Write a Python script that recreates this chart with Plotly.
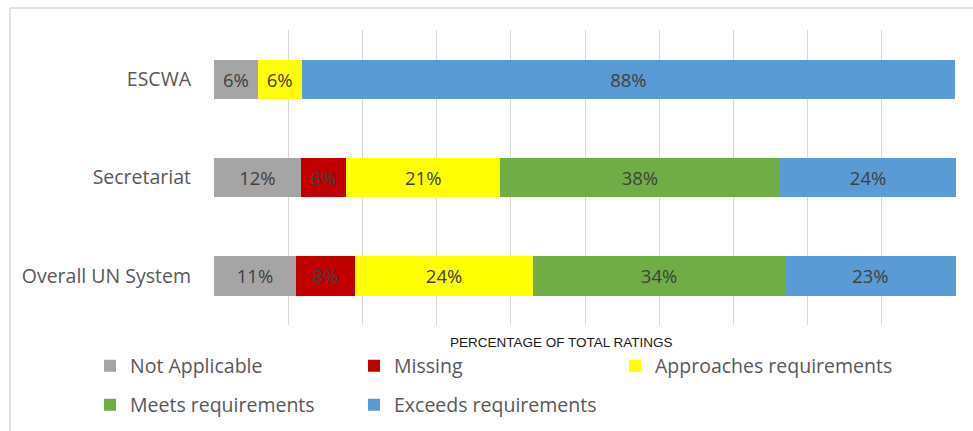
import plotly.graph_objects as go

categories = ["Overall UN System", "Secretariat", "ESCWA"]
series_names = ["Not Applicable", "Missing", "Approaches requirements",
                "Meets requirements", "Exceeds requirements"]
not_applicable = [11.05, 11.7, 5.9]
missing = [7.95, 6.1, 0]
approaches = [24.0, 20.8, 5.9]
meets = [33.96, 37.6, 0]
exceeds = [23.0, 23.9, 88.1]
colors = ["#a5a5a5", "#c00000", "#ffff00", "#70ad47", "#5b9bd5"]
legend_ids = ["legend", "legend", "legend3", "legend2", "legend2"]

FONT = "Open Sans"
W, H = 973, 431
L, R, T, B = 214, 17, 30, 106
PW, PH = W - L - R, H - T - B

def px_x(x):
    return (x - L) / PW

def px_y(y):
    return (H - B - y) / PH

fig = go.Figure()
for name, vals, col, lg in zip(series_names,
                               [not_applicable, missing, approaches, meets, exceeds],
                               colors, legend_ids):
    fig.add_trace(go.Bar(
        y=categories, x=vals, name=name, orientation="h",
        marker=dict(color=col, line=dict(width=0)),
        text=[f"{v:.0f}%" if v > 0 else "" for v in vals],
        textposition="inside", insidetextanchor="middle",
        textfont=dict(family=FONT, size=18.5, color="#404040"),
        constraintext="none", legend=lg, hoverinfo="skip",
    ))

legend_common = dict(orientation="h", xanchor="left", yanchor="middle",
                     entrywidthmode="pixels",
                     font=dict(family=FONT, size=19.5, color="#595959"),
                     traceorder="normal", bgcolor="rgba(0,0,0,0)")

fig.update_layout(
    width=W, height=H, barmode="stack", bargap=0.6,
    margin=dict(l=L, r=R, t=T, b=B, autoexpand=False),
    paper_bgcolor="white", plot_bgcolor="white",
    font=dict(family=FONT, color="#595959"),
    xaxis=dict(range=[0, 100], dtick=10, showgrid=True, gridcolor="#d9d9d9",
               gridwidth=1, showticklabels=False, zeroline=False, showline=False,
               fixedrange=True),
    yaxis=dict(showgrid=False, zeroline=False, showline=False, fixedrange=True,
               automargin=False,
               tickfont=dict(family=FONT, size=19.5, color="#595959"),
               ticklabelstandoff=22, range=[-0.5, 2.5]),
    legend=dict(x=px_x(90), y=px_y(366), entrywidth=219, **legend_common),
    legend3=dict(x=px_x(615), y=px_y(366), entrywidth=300, **legend_common),
    legend2=dict(x=px_x(90), y=px_y(405), entrywidth=219, **legend_common),
    annotations=[dict(text="PERCENTAGE OF TOTAL RATINGS", xref="paper", yref="paper",
                      x=px_x(561), y=px_y(342), xanchor="center", yanchor="middle",
                      showarrow=False,
                      font=dict(family="Liberation Sans", size=13.5, color="#1a1a1a"))],
    shapes=[
        dict(type="line", xref="paper", yref="paper", x0=px_x(10), x1=px_x(10),
             y0=px_y(8), y1=px_y(431), line=dict(color="#d9d9d9", width=1.5)),
        dict(type="line", xref="paper", yref="paper", x0=px_x(10), x1=px_x(973),
             y0=px_y(8), y1=px_y(8), line=dict(color="#d9d9d9", width=1.5)),
    ],
    showlegend=True,
)

fig.write_html("out.html", config={"displayModeBar": False},
               post_script="document.body.style.margin='0';document.body.style.overflow='hidden';")
